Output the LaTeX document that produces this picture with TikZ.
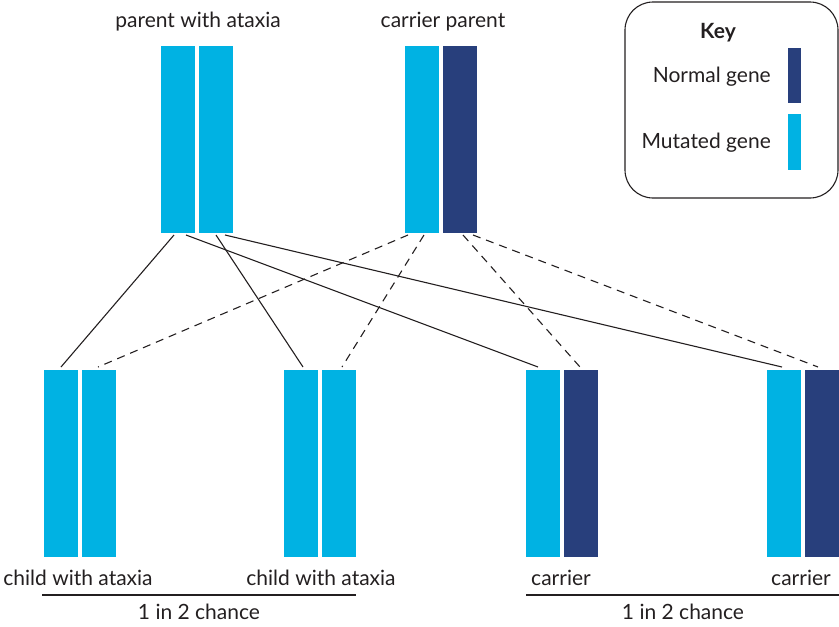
\documentclass[tikz,border=0pt]{standalone}
\usepackage{fontspec}
\setmainfont{Lato}
\definecolor{mutcyan}{HTML}{00B2E3}
\definecolor{normnavy}{HTML}{283F7C}
\definecolor{inkgray}{HTML}{231F20}
\begin{document}
\begin{tikzpicture}[x=1pt,y=-1pt,
  gene/.style={rectangle,inner sep=0pt,outer sep=0pt,anchor=north west,
    minimum width=34pt,minimum height=187pt},
  mut/.style={gene,fill=mutcyan},
  norm/.style={gene,fill=normnavy},
  keybar/.style={rectangle,inner sep=0pt,anchor=north west,minimum width=13pt,minimum height=55pt},
  lbl/.style={font=\fontsize{21}{24}\selectfont,text=inkgray,inner sep=0pt},
  inherit/.style={draw=inkgray,line width=1.1pt},
  inheritd/.style={inherit,dash pattern=on 8pt off 6pt}]
\useasboundingbox (0,0) rectangle (839,627);

% parents
\node[mut]  (pa1) at (161,46) {};
\node[mut]  (pa2) at (199,46) {};
\node[mut]  (cp1) at (405,46) {};
\node[norm] (cp2) at (443,46) {};
\node[lbl] (lpa) at (198,22) {parent with ataxia};
\node[lbl] (lcp) at (443,22) {carrier parent};

% children
\node[mut]  (c1a) at (44,370) {};
\node[mut]  (c1b) at (82,370) {};
\node[mut]  (c2a) at (284,370) {};
\node[mut]  (c2b) at (322,370) {};
\node[mut]  (c3a) at (526,370) {};
\node[norm] (c3b) at (564,370) {};
\node[mut]  (c4a) at (767,370) {};
\node[norm] (c4b) at (805,370) {};

\node[lbl] (l1) at (78,578) {child with ataxia};
\node[lbl] (l2) at (321,578) {child with ataxia};
\node[lbl] (l3) at (561,578) {carrier};
\node[lbl] (l4) at (801,578) {carrier};

% chance brackets
\coordinate (b1s) at (42,595);
\coordinate (b1e) at (356,595);
\coordinate (b2s) at (526,595);
\coordinate (b2e) at (839,595);
\draw[inherit] (b1s) -- (b1e);
\draw[inherit] (b2s) -- (b2e);
\node[lbl] (ch1) at (199,612) {1 in 2 chance};
\node[lbl] (ch2) at (683,612) {1 in 2 chance};

% inheritance from the parent with ataxia
\draw[inherit] ([shift={(-4,2)}]pa1.south) -- ([shift={(0,-3)}]c1a.north);
\draw[inherit] ([shift={(8,2)}]pa1.south) -- ([shift={(-5,-3)}]c3a.north);
\draw[inherit] ([shift={(0,2)}]pa2.south) -- ([shift={(2,-3)}]c2a.north);
\draw[inherit] ([shift={(9,2)}]pa2.south) -- ([shift={(-2,-3)}]c4a.north);

% inheritance from the carrier parent
\draw[inheritd] ([shift={(-14,2)}]cp1.south) -- ([shift={(-1,-3)}]c1b.north);
\draw[inheritd] ([shift={(2,2)}]cp1.south) -- ([shift={(3,-3)}]c2b.north);
\draw[inheritd] ([shift={(3,2)}]cp2.south) -- ([shift={(-1,-3)}]c3b.north);
\draw[inheritd] ([shift={(13,2)}]cp2.south) -- ([shift={(-4,-3)}]c4b.north);

% key
\draw[draw=inkgray,line width=1.1pt,rounded corners=28pt] (625,2) rectangle (838,198);
\node[lbl,font=\fontsize{21}{24}\selectfont\bfseries] (kt) at (718,33) {Key};
\node[lbl,anchor=east] (kn) at (771,77) {Normal gene};
\node[lbl,anchor=east] (km) at (771,143) {Mutated gene};
\node[keybar,fill=normnavy] (kbn) at (788,48) {};
\node[keybar,fill=mutcyan,minimum height=56pt] (kbm) at (788,114) {};
\end{tikzpicture}
\end{document}
